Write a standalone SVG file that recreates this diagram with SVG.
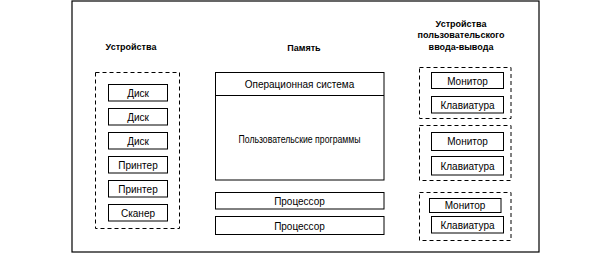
<svg xmlns="http://www.w3.org/2000/svg" width="612" height="265" viewBox="0 0 612 265">
<style>
.frame{fill:none;stroke:#000;stroke-width:1.2}
.box{fill:#fff;stroke:#000;stroke-width:1}
.dash{fill:none;stroke:#000;stroke-width:1;stroke-dasharray:4,3}
.t{font-family:"Liberation Sans",Arial,sans-serif;font-size:10px;fill:#000;text-anchor:middle}
.h{font-family:"Liberation Sans",Arial,sans-serif;font-size:9px;font-weight:bold;fill:#000;text-anchor:middle}
</style>
<rect width="612" height="265" fill="#fff"/>
<rect class="frame" x="72" y="1" width="467" height="251"/>
<g id="devices">
  <text class="h" x="131" y="50">Устройства</text>
  <rect class="dash" x="95.5" y="72.5" width="84" height="156"/>
  <g id="disk1"><rect class="box" x="108.5" y="84.5" width="59" height="16.5"/><text class="t" x="138" y="96.5">Диск</text></g>
  <g id="disk2"><rect class="box" x="108.5" y="108.5" width="59" height="16.5"/><text class="t" x="138" y="120.5">Диск</text></g>
  <g id="disk3"><rect class="box" x="108.5" y="132.5" width="59" height="16.5"/><text class="t" x="138" y="144.5">Диск</text></g>
  <g id="printer1"><rect class="box" x="108.5" y="156.5" width="59" height="16.5"/><text class="t" x="138" y="168.5">Принтер</text></g>
  <g id="printer2"><rect class="box" x="108.5" y="180.5" width="59" height="16.5"/><text class="t" x="138" y="192.5">Принтер</text></g>
  <g id="scanner"><rect class="box" x="108.5" y="204.5" width="59" height="16.5"/><text class="t" x="138" y="216.5">Сканер</text></g>
</g>
<g id="memory">
  <text class="h" x="304" y="51">Память</text>
  <rect class="box" x="215.5" y="72.5" width="168.5" height="107.5"/>
  <line x1="215.5" y1="95.5" x2="384" y2="95.5" stroke="#000" stroke-width="1"/>
  <text class="t" x="299.5" y="87.5">Операционная система</text>
  <text class="t" x="299.5" y="142.5" textLength="122" lengthAdjust="spacingAndGlyphs">Пользовательские программы</text>
</g>
<g id="cpu1"><rect class="box" x="215.5" y="192.5" width="168.5" height="16.5"/><text class="t" x="299.5" y="205">Процессор</text></g>
<g id="cpu2"><rect class="box" x="215.5" y="216.5" width="168.5" height="18"/><text class="t" x="299.5" y="229.5">Процессор</text></g>
<g id="user-io">
  <text class="h" x="461" y="27">Устройства</text>
  <text class="h" x="461" y="38">пользовательского</text>
  <text class="h" x="461" y="50">ввода-вывода</text>
  <g id="term1">
    <rect class="dash" x="419.5" y="67.5" width="91.5" height="51"/>
    <g id="mon1"><rect class="box" x="431.5" y="72.5" width="72" height="16"/><text class="t" x="467.5" y="84.5">Монитор</text></g>
    <g id="kbd1"><rect class="box" x="431.5" y="96.5" width="72" height="16.5"/><text class="t" x="467.5" y="109">Клавиатура</text></g>
  </g>
  <g id="term2">
    <rect class="dash" x="419.5" y="125.5" width="91.5" height="55"/>
    <g id="mon2"><rect class="box" x="431.5" y="132.5" width="72" height="18"/><text class="t" x="467.5" y="145">Монитор</text></g>
    <g id="kbd2"><rect class="box" x="431.5" y="156.5" width="72" height="18.5"/><text class="t" x="467.5" y="169.5">Клавиатура</text></g>
  </g>
  <g id="term3">
    <rect class="dash" x="419.5" y="192.5" width="91.5" height="48"/>
    <g id="mon3"><rect class="box" x="429.5" y="198.5" width="71.5" height="14"/><text class="t" x="465" y="209">Монитор</text></g>
    <g id="kbd3"><rect class="box" x="431.5" y="216.5" width="72" height="16.5"/><text class="t" x="467.5" y="228.5">Клавиатура</text></g>
  </g>
</g>
</svg>
